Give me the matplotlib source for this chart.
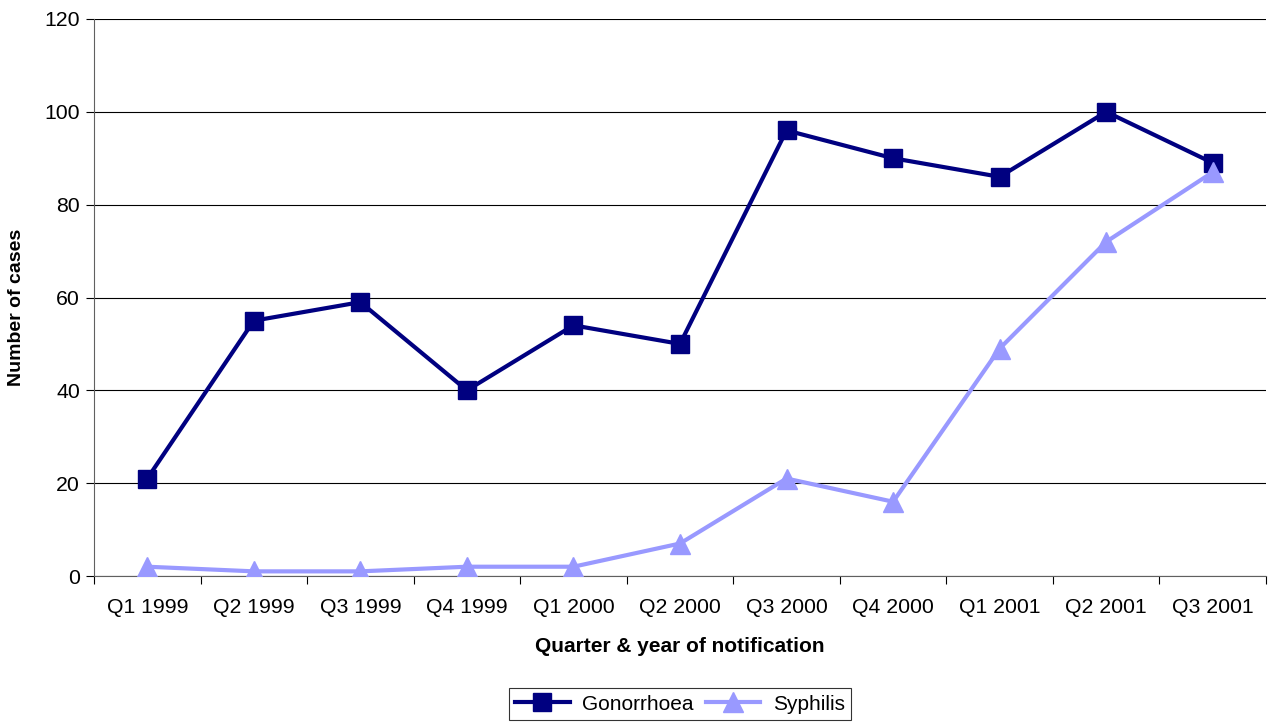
import matplotlib
matplotlib.use("Agg")
import matplotlib.pyplot as plt
from matplotlib.ticker import FixedLocator, NullFormatter, FixedFormatter

categories = ["Q1 1999", "Q2 1999", "Q3 1999", "Q4 1999", "Q1 2000", "Q2 2000",
              "Q3 2000", "Q4 2000", "Q1 2001", "Q2 2001", "Q3 2001"]
gonorrhoea = [21, 55, 59, 40, 54, 50, 96, 90, 86, 100, 89]
syphilis = [2, 1, 1, 2, 2, 7, 21, 16, 49, 72, 87]

plt.rcParams['font.family'] = ['Liberation Sans', 'DejaVu Sans']

fig = plt.figure(figsize=(12.75, 7.24), dpi=100)
ax = fig.add_axes([94/1275, 1-576/724, (1266-94)/1275, (576-19)/724])

x = list(range(len(categories)))
ax.plot(x, gonorrhoea, color='#000080', lw=3, marker='s', ms=13, label='Gonorrhoea', zorder=3)
ax.plot(x, syphilis, color='#9999FF', lw=3, marker='^', ms=15, label='Syphilis', zorder=4)

ax.set_xlim(-0.5, len(categories) - 0.5)
ax.set_ylim(0, 120)
ax.set_yticks(range(0, 121, 20))
ax.yaxis.grid(True, color='black', lw=0.8)
ax.set_axisbelow(True)

ax.xaxis.set_major_locator(FixedLocator([i - 0.5 for i in range(len(categories) + 1)]))
ax.xaxis.set_major_formatter(NullFormatter())
ax.xaxis.set_minor_locator(FixedLocator(x))
ax.xaxis.set_minor_formatter(FixedFormatter(categories))
ax.tick_params(axis='x', which='major', length=6, width=0.8, direction='out')
ax.tick_params(axis='x', which='minor', length=0, pad=16, labelsize=15.3)
ax.tick_params(axis='y', length=6, width=0.8, direction='out', labelsize=15.3, pad=4)

for s in ['top', 'right']:
    ax.spines[s].set_visible(False)
ax.spines['left'].set_color('#606060')
ax.spines['bottom'].set_color('#606060')

ax.set_xlabel('Quarter & year of notification', fontsize=15, fontweight='bold', labelpad=14)
ax.set_ylabel('Number of cases', fontsize=14, fontweight='bold')
ax.yaxis.set_label_coords(-0.0585, 0.483)

leg = fig.legend(loc='center', bbox_to_anchor=(680/1275, 1 - 704/724), ncol=2, frameon=True,
                 fancybox=False, edgecolor='black', fontsize=15, handlelength=2.6,
                 columnspacing=0.6, handletextpad=0.6, borderpad=0.3, markerscale=1.0)
leg.get_frame().set_linewidth(0.8)

fig.savefig('out.png', dpi=100)
